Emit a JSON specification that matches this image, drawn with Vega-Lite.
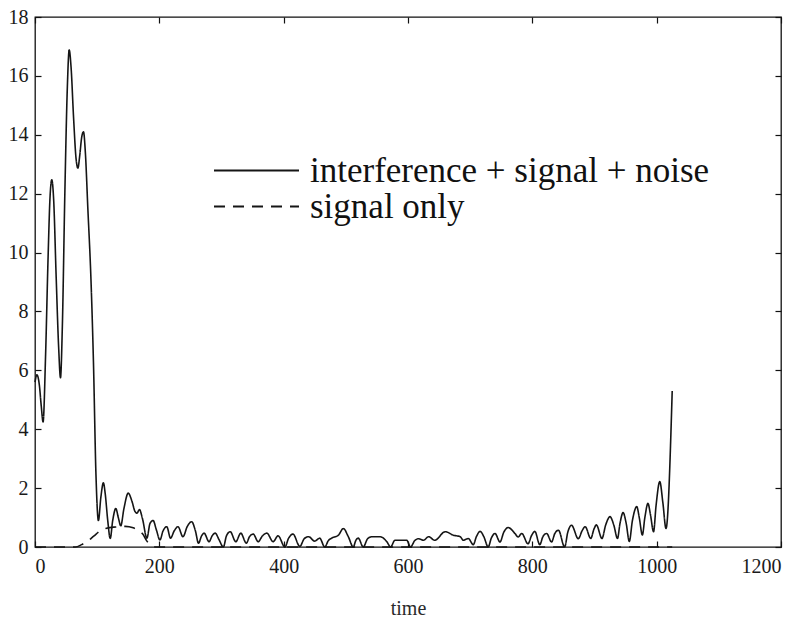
{
  "$schema": "https://vega.github.io/schema/vega-lite/v6.json",
  "width": 746,
  "height": 530,
  "autosize": {"type": "none"},
  "padding": {"left": 35, "top": 17, "right": 24, "bottom": 74},
  "background": "white",
  "config": {
    "view": {"stroke": "#111", "strokeWidth": 1.3},
    "font": "Liberation Serif",
    "axis": {
      "grid": false,
      "domain": false,
      "tickColor": "#111",
      "tickSize": -6,
      "tickWidth": 1.2,
      "labelFont": "Liberation Serif",
      "labelFontSize": 20,
      "labelColor": "#1a1a1a",
      "titleFont": "Liberation Serif",
      "titleFontSize": 20,
      "titleFontWeight": "normal",
      "titleColor": "#2a2a2a"
    }
  },
  "datasets": {
    "curves": [
      {"t": 0, "v": 5.6, "series": "interference + signal + noise"},
      {"t": 3, "v": 5.85, "series": "interference + signal + noise"},
      {"t": 7, "v": 5.5, "series": "interference + signal + noise"},
      {"t": 10, "v": 4.8, "series": "interference + signal + noise"},
      {"t": 13, "v": 4.25, "series": "interference + signal + noise"},
      {"t": 17, "v": 6.5, "series": "interference + signal + noise"},
      {"t": 21, "v": 9.8, "series": "interference + signal + noise"},
      {"t": 24, "v": 11.8, "series": "interference + signal + noise"},
      {"t": 27, "v": 12.47, "series": "interference + signal + noise"},
      {"t": 30, "v": 11.8, "series": "interference + signal + noise"},
      {"t": 34, "v": 9.2, "series": "interference + signal + noise"},
      {"t": 38, "v": 6.8, "series": "interference + signal + noise"},
      {"t": 41, "v": 5.75, "series": "interference + signal + noise"},
      {"t": 44, "v": 7.5, "series": "interference + signal + noise"},
      {"t": 48, "v": 12.0, "series": "interference + signal + noise"},
      {"t": 52, "v": 15.6, "series": "interference + signal + noise"},
      {"t": 55, "v": 16.88, "series": "interference + signal + noise"},
      {"t": 58, "v": 16.3, "series": "interference + signal + noise"},
      {"t": 62, "v": 14.6, "series": "interference + signal + noise"},
      {"t": 66, "v": 13.2, "series": "interference + signal + noise"},
      {"t": 69, "v": 12.87, "series": "interference + signal + noise"},
      {"t": 72, "v": 13.3, "series": "interference + signal + noise"},
      {"t": 75, "v": 13.9, "series": "interference + signal + noise"},
      {"t": 78, "v": 14.1, "series": "interference + signal + noise"},
      {"t": 81, "v": 13.4, "series": "interference + signal + noise"},
      {"t": 85, "v": 11.5, "series": "interference + signal + noise"},
      {"t": 90, "v": 9.1, "series": "interference + signal + noise"},
      {"t": 94, "v": 6.3, "series": "interference + signal + noise"},
      {"t": 98, "v": 2.5, "series": "interference + signal + noise"},
      {"t": 102, "v": 0.9, "series": "interference + signal + noise"},
      {"t": 106, "v": 1.7, "series": "interference + signal + noise"},
      {"t": 110, "v": 2.18, "series": "interference + signal + noise"},
      {"t": 113, "v": 1.8, "series": "interference + signal + noise"},
      {"t": 117, "v": 0.9, "series": "interference + signal + noise"},
      {"t": 121, "v": 0.29, "series": "interference + signal + noise"},
      {"t": 125, "v": 0.9, "series": "interference + signal + noise"},
      {"t": 130, "v": 1.31, "series": "interference + signal + noise"},
      {"t": 134, "v": 1.0, "series": "interference + signal + noise"},
      {"t": 138, "v": 0.72, "series": "interference + signal + noise"},
      {"t": 143, "v": 1.3, "series": "interference + signal + noise"},
      {"t": 150, "v": 1.83, "series": "interference + signal + noise"},
      {"t": 156, "v": 1.55, "series": "interference + signal + noise"},
      {"t": 161, "v": 1.2, "series": "interference + signal + noise"},
      {"t": 164, "v": 1.15, "series": "interference + signal + noise"},
      {"t": 168, "v": 1.27, "series": "interference + signal + noise"},
      {"t": 173, "v": 0.95, "series": "interference + signal + noise"},
      {"t": 180, "v": 0.3, "series": "interference + signal + noise"},
      {"t": 185, "v": 0.8, "series": "interference + signal + noise"},
      {"t": 190, "v": 0.9, "series": "interference + signal + noise"},
      {"t": 195, "v": 0.6, "series": "interference + signal + noise"},
      {"t": 201, "v": 0.24, "series": "interference + signal + noise"},
      {"t": 206, "v": 0.55, "series": "interference + signal + noise"},
      {"t": 212, "v": 0.69, "series": "interference + signal + noise"},
      {"t": 218, "v": 0.3, "series": "interference + signal + noise"},
      {"t": 224, "v": 0.55, "series": "interference + signal + noise"},
      {"t": 230, "v": 0.69, "series": "interference + signal + noise"},
      {"t": 238, "v": 0.35, "series": "interference + signal + noise"},
      {"t": 245, "v": 0.7, "series": "interference + signal + noise"},
      {"t": 252, "v": 0.86, "series": "interference + signal + noise"},
      {"t": 258, "v": 0.55, "series": "interference + signal + noise"},
      {"t": 263, "v": 0.13, "series": "interference + signal + noise"},
      {"t": 268, "v": 0.38, "series": "interference + signal + noise"},
      {"t": 272, "v": 0.47, "series": "interference + signal + noise"},
      {"t": 280, "v": 0.18, "series": "interference + signal + noise"},
      {"t": 285, "v": 0.38, "series": "interference + signal + noise"},
      {"t": 290, "v": 0.47, "series": "interference + signal + noise"},
      {"t": 296, "v": 0.25, "series": "interference + signal + noise"},
      {"t": 303, "v": 0.0, "series": "interference + signal + noise"},
      {"t": 308, "v": 0.38, "series": "interference + signal + noise"},
      {"t": 314, "v": 0.52, "series": "interference + signal + noise"},
      {"t": 323, "v": 0.18, "series": "interference + signal + noise"},
      {"t": 331, "v": 0.47, "series": "interference + signal + noise"},
      {"t": 340, "v": 0.13, "series": "interference + signal + noise"},
      {"t": 345, "v": 0.35, "series": "interference + signal + noise"},
      {"t": 351, "v": 0.44, "series": "interference + signal + noise"},
      {"t": 359, "v": 0.18, "series": "interference + signal + noise"},
      {"t": 366, "v": 0.38, "series": "interference + signal + noise"},
      {"t": 373, "v": 0.47, "series": "interference + signal + noise"},
      {"t": 383, "v": 0.18, "series": "interference + signal + noise"},
      {"t": 391, "v": 0.38, "series": "interference + signal + noise"},
      {"t": 402, "v": 0.0, "series": "interference + signal + noise"},
      {"t": 408, "v": 0.3, "series": "interference + signal + noise"},
      {"t": 415, "v": 0.44, "series": "interference + signal + noise"},
      {"t": 426, "v": 0.02, "series": "interference + signal + noise"},
      {"t": 433, "v": 0.28, "series": "interference + signal + noise"},
      {"t": 440, "v": 0.35, "series": "interference + signal + noise"},
      {"t": 450, "v": 0.2, "series": "interference + signal + noise"},
      {"t": 458, "v": 0.3, "series": "interference + signal + noise"},
      {"t": 466, "v": 0.0, "series": "interference + signal + noise"},
      {"t": 472, "v": 0.22, "series": "interference + signal + noise"},
      {"t": 477, "v": 0.3, "series": "interference + signal + noise"},
      {"t": 488, "v": 0.4, "series": "interference + signal + noise"},
      {"t": 496, "v": 0.63, "series": "interference + signal + noise"},
      {"t": 504, "v": 0.35, "series": "interference + signal + noise"},
      {"t": 512, "v": 0.0, "series": "interference + signal + noise"},
      {"t": 516, "v": 0.22, "series": "interference + signal + noise"},
      {"t": 520, "v": 0.3, "series": "interference + signal + noise"},
      {"t": 528, "v": 0.0, "series": "interference + signal + noise"},
      {"t": 535, "v": 0.28, "series": "interference + signal + noise"},
      {"t": 542, "v": 0.35, "series": "interference + signal + noise"},
      {"t": 555, "v": 0.35, "series": "interference + signal + noise"},
      {"t": 566, "v": 0.18, "series": "interference + signal + noise"},
      {"t": 572, "v": 0.0, "series": "interference + signal + noise"},
      {"t": 579, "v": 0.23, "series": "interference + signal + noise"},
      {"t": 598, "v": 0.23, "series": "interference + signal + noise"},
      {"t": 604, "v": 0.0, "series": "interference + signal + noise"},
      {"t": 611, "v": 0.22, "series": "interference + signal + noise"},
      {"t": 617, "v": 0.28, "series": "interference + signal + noise"},
      {"t": 625, "v": 0.23, "series": "interference + signal + noise"},
      {"t": 633, "v": 0.35, "series": "interference + signal + noise"},
      {"t": 643, "v": 0.23, "series": "interference + signal + noise"},
      {"t": 660, "v": 0.52, "series": "interference + signal + noise"},
      {"t": 673, "v": 0.4, "series": "interference + signal + noise"},
      {"t": 684, "v": 0.35, "series": "interference + signal + noise"},
      {"t": 689, "v": 0.23, "series": "interference + signal + noise"},
      {"t": 697, "v": 0.29, "series": "interference + signal + noise"},
      {"t": 705, "v": 0.08, "series": "interference + signal + noise"},
      {"t": 710, "v": 0.35, "series": "interference + signal + noise"},
      {"t": 716, "v": 0.53, "series": "interference + signal + noise"},
      {"t": 722, "v": 0.35, "series": "interference + signal + noise"},
      {"t": 729, "v": 0.0, "series": "interference + signal + noise"},
      {"t": 734, "v": 0.3, "series": "interference + signal + noise"},
      {"t": 740, "v": 0.46, "series": "interference + signal + noise"},
      {"t": 748, "v": 0.17, "series": "interference + signal + noise"},
      {"t": 754, "v": 0.5, "series": "interference + signal + noise"},
      {"t": 761, "v": 0.66, "series": "interference + signal + noise"},
      {"t": 772, "v": 0.46, "series": "interference + signal + noise"},
      {"t": 777, "v": 0.34, "series": "interference + signal + noise"},
      {"t": 783, "v": 0.46, "series": "interference + signal + noise"},
      {"t": 793, "v": 0.11, "series": "interference + signal + noise"},
      {"t": 799, "v": 0.4, "series": "interference + signal + noise"},
      {"t": 804, "v": 0.53, "series": "interference + signal + noise"},
      {"t": 812, "v": 0.08, "series": "interference + signal + noise"},
      {"t": 817, "v": 0.35, "series": "interference + signal + noise"},
      {"t": 823, "v": 0.46, "series": "interference + signal + noise"},
      {"t": 831, "v": 0.17, "series": "interference + signal + noise"},
      {"t": 836, "v": 0.45, "series": "interference + signal + noise"},
      {"t": 842, "v": 0.57, "series": "interference + signal + noise"},
      {"t": 852, "v": 0.0, "series": "interference + signal + noise"},
      {"t": 857, "v": 0.5, "series": "interference + signal + noise"},
      {"t": 863, "v": 0.74, "series": "interference + signal + noise"},
      {"t": 874, "v": 0.28, "series": "interference + signal + noise"},
      {"t": 880, "v": 0.55, "series": "interference + signal + noise"},
      {"t": 885, "v": 0.69, "series": "interference + signal + noise"},
      {"t": 894, "v": 0.29, "series": "interference + signal + noise"},
      {"t": 899, "v": 0.6, "series": "interference + signal + noise"},
      {"t": 903, "v": 0.75, "series": "interference + signal + noise"},
      {"t": 912, "v": 0.29, "series": "interference + signal + noise"},
      {"t": 918, "v": 0.75, "series": "interference + signal + noise"},
      {"t": 925, "v": 1.03, "series": "interference + signal + noise"},
      {"t": 931, "v": 0.75, "series": "interference + signal + noise"},
      {"t": 937, "v": 0.29, "series": "interference + signal + noise"},
      {"t": 941, "v": 0.8, "series": "interference + signal + noise"},
      {"t": 946, "v": 1.17, "series": "interference + signal + noise"},
      {"t": 951, "v": 0.8, "series": "interference + signal + noise"},
      {"t": 956, "v": 0.19, "series": "interference + signal + noise"},
      {"t": 961, "v": 0.9, "series": "interference + signal + noise"},
      {"t": 968, "v": 1.37, "series": "interference + signal + noise"},
      {"t": 972, "v": 1.0, "series": "interference + signal + noise"},
      {"t": 977, "v": 0.41, "series": "interference + signal + noise"},
      {"t": 981, "v": 1.0, "series": "interference + signal + noise"},
      {"t": 986, "v": 1.48, "series": "interference + signal + noise"},
      {"t": 990, "v": 1.1, "series": "interference + signal + noise"},
      {"t": 995, "v": 0.52, "series": "interference + signal + noise"},
      {"t": 999, "v": 1.4, "series": "interference + signal + noise"},
      {"t": 1005, "v": 2.22, "series": "interference + signal + noise"},
      {"t": 1010, "v": 1.5, "series": "interference + signal + noise"},
      {"t": 1015, "v": 0.63, "series": "interference + signal + noise"},
      {"t": 1025, "v": 5.3, "series": "interference + signal + noise"},
      {"t": 0, "v": 0, "series": "signal only"},
      {"t": 65, "v": 0, "series": "signal only"},
      {"t": 75, "v": 0.08, "series": "signal only"},
      {"t": 85, "v": 0.2, "series": "signal only"},
      {"t": 95, "v": 0.38, "series": "signal only"},
      {"t": 105, "v": 0.55, "series": "signal only"},
      {"t": 115, "v": 0.64, "series": "signal only"},
      {"t": 130, "v": 0.68, "series": "signal only"},
      {"t": 145, "v": 0.7, "series": "signal only"},
      {"t": 158, "v": 0.65, "series": "signal only"},
      {"t": 166, "v": 0.55, "series": "signal only"},
      {"t": 173, "v": 0.45, "series": "signal only"},
      {"t": 180, "v": 0.2, "series": "signal only"},
      {"t": 188, "v": 0.04, "series": "signal only"},
      {"t": 195, "v": 0, "series": "signal only"},
      {"t": 1025, "v": 0, "series": "signal only"}
    ]
  },
  "data": {"name": "curves"},
  "layer": [
    {
      "mark": {"type": "line", "interpolate": "monotone", "strokeWidth": 1.6},
      "encoding": {
        "x": {
          "field": "t",
          "type": "quantitative",
          "scale": {"domain": [0, 1200], "nice": false, "zero": false},
          "axis": {
            "orient": "bottom",
            "values": [0, 200, 400, 600, 800, 1000, 1200],
            "format": "d",
            "labelPadding": 15,
            "title": "time",
            "titlePadding": 22
          }
        },
        "y": {
          "field": "v",
          "type": "quantitative",
          "scale": {"domain": [0, 18], "nice": false},
          "axis": {
            "orient": "left",
            "values": [0, 2, 4, 6, 8, 10, 12, 14, 16, 18],
            "labelPadding": 13,
            "title": null
          }
        },
        "color": {
          "field": "series",
          "type": "nominal",
          "scale": {
            "domain": ["interference + signal + noise", "signal only"],
            "range": ["#151515", "#151515"]
          },
          "legend": {
            "title": null,
            "orient": "none",
            "legendX": 178,
            "legendY": 137,
            "symbolType": "stroke",
            "symbolSize": 7225,
            "symbolStrokeWidth": 1.8,
            "labelFont": "Liberation Serif",
            "labelFontSize": 35,
            "labelColor": "#111",
            "labelLimit": 700,
            "labelOffset": 10,
            "clipHeight": 33,
            "padding": 0,
            "rowPadding": 0
          }
        },
        "strokeDash": {
          "field": "series",
          "type": "nominal",
          "scale": {
            "domain": ["interference + signal + noise", "signal only"],
            "range": [[1, 0], [11, 8]]
          },
          "legend": {
            "title": null,
            "orient": "none",
            "legendX": 178,
            "legendY": 137,
            "symbolType": "stroke",
            "symbolSize": 7225,
            "symbolStrokeWidth": 1.8,
            "labelFont": "Liberation Serif",
            "labelFontSize": 35,
            "labelColor": "#111",
            "labelLimit": 700,
            "labelOffset": 10,
            "clipHeight": 33,
            "padding": 0,
            "rowPadding": 0
          }
        }
      }
    },
    {
      "mark": {"type": "line", "opacity": 0},
      "encoding": {
        "x": {
          "field": "t",
          "type": "quantitative",
          "axis": {
            "orient": "top",
            "values": [0, 200, 400, 600, 800, 1000, 1200],
            "labels": false,
            "title": null
          }
        },
        "y": {
          "field": "v",
          "type": "quantitative",
          "axis": {
            "orient": "right",
            "values": [0, 2, 4, 6, 8, 10, 12, 14, 16, 18],
            "labels": false,
            "title": null
          }
        },
        "detail": {"field": "series", "type": "nominal"}
      }
    }
  ],
  "resolve": {"axis": {"x": "independent", "y": "independent"}}
}
